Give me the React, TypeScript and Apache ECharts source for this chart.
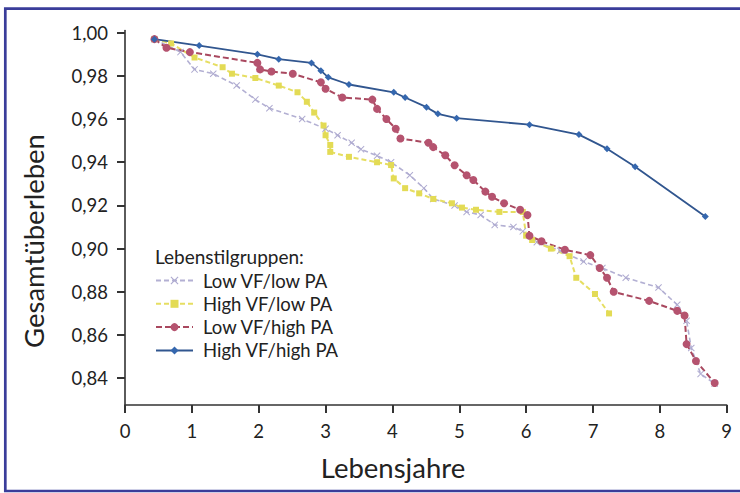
import React, { useEffect, useRef } from "react";
import * as echarts from "echarts";

const seriesNames = ["Low VF/low PA", "High VF/low PA", "Low VF/high PA", "High VF/high PA"];

const lowLowX = [0.44, 0.83, 1.04, 1.32, 1.67, 1.95, 2.16, 2.65, 3.0, 3.18, 3.39, 3.53, 3.77, 3.98, 4.26, 4.47, 4.61, 4.93, 5.11, 5.32, 5.53, 5.81, 5.95, 6.16, 6.51, 6.86, 7.14, 7.49, 7.98, 8.26, 8.4, 8.47, 8.61, 8.82];
const lowLowY = [0.997, 0.991, 0.983, 0.981, 0.9755, 0.969, 0.965, 0.96, 0.9555, 0.9525, 0.949, 0.946, 0.943, 0.94, 0.934, 0.928, 0.923, 0.92, 0.917, 0.9156, 0.911, 0.91, 0.908, 0.903, 0.899, 0.894, 0.891, 0.8865, 0.882, 0.874, 0.8666, 0.854, 0.842, 0.8375];

const highLowX = [0.44, 0.69, 1.04, 1.46, 1.6, 1.95, 2.3, 2.58, 2.72, 2.83, 2.97, 3.0, 3.07, 3.07, 3.35, 3.77, 3.98, 4.02, 4.19, 4.4, 4.61, 4.89, 5.04, 5.25, 5.6, 5.95, 6.0, 6.09, 6.37, 6.65, 6.75, 7.03, 7.24];
const highLowY = [0.997, 0.995, 0.9885, 0.984, 0.981, 0.979, 0.9755, 0.9724, 0.968, 0.963, 0.957, 0.9525, 0.948, 0.9448, 0.9425, 0.94, 0.9387, 0.9325, 0.928, 0.9256, 0.923, 0.921, 0.919, 0.918, 0.917, 0.917, 0.906, 0.904, 0.9, 0.8965, 0.8865, 0.879, 0.87];

const lowHighX = [0.44, 0.62, 0.97, 1.98, 2.02, 2.19, 2.51, 2.93, 3.0, 3.25, 3.7, 3.77, 3.91, 4.05, 4.12, 4.54, 4.61, 4.79, 4.93, 5.11, 5.21, 5.39, 5.49, 5.67, 5.91, 6.02, 6.05, 6.23, 6.58, 6.96, 7.1, 7.21, 7.31, 7.84, 8.26, 8.37, 8.4, 8.54, 8.82];
const lowHighY = [0.997, 0.993, 0.991, 0.986, 0.983, 0.982, 0.981, 0.977, 0.974, 0.97, 0.969, 0.9647, 0.96, 0.9555, 0.951, 0.949, 0.947, 0.9432, 0.9386, 0.934, 0.9318, 0.9264, 0.924, 0.921, 0.918, 0.9156, 0.906, 0.9034, 0.8995, 0.897, 0.891, 0.8865, 0.88, 0.8758, 0.8712, 0.869, 0.8558, 0.848, 0.8378];

const highHighX = [0.44, 1.11, 1.98, 2.3, 2.79, 2.93, 3.04, 3.35, 4.02, 4.19, 4.51, 4.68, 4.96, 6.05, 6.79, 7.21, 7.63, 8.68];
const highHighY = [0.997, 0.994, 0.99, 0.9877, 0.986, 0.9824, 0.9793, 0.976, 0.9724, 0.97, 0.9655, 0.9624, 0.9604, 0.9574, 0.9528, 0.9463, 0.9379, 0.9149];

const yTicks = [0.84, 0.86, 0.88, 0.9, 0.92, 0.94, 0.96, 0.98, 1.0];

const zip = (xs: number[], ys: number[]) => xs.map((x, i) => [x, ys[i]]);

const FONT = "Lato";
const crossPath = "path://M0 1L1 0L5 4L9 0L10 1L6 5L10 9L9 10L5 6L1 10L0 9L4 5Z";

export default function App() {
  const ref = useRef<HTMLDivElement>(null);
  useEffect(() => {
    if (!ref.current) return;
    const chart = echarts.init(ref.current, undefined, { renderer: "svg" });
    chart.setOption({
      animation: false,
      backgroundColor: "#ffffff",
      textStyle: { fontFamily: FONT },
      grid: { left: 125, right: 13.3, top: 30.5, bottom: 88 },
      xAxis: {
        type: "value",
        min: 0,
        max: 9,
        interval: 1,
        axisLine: { lineStyle: { color: "#333", width: 1.6 } },
        axisTick: { inside: false, length: 8, lineStyle: { color: "#333", width: 2 } },
        axisLabel: { color: "#222", fontSize: 18.5, margin: 16, fontFamily: FONT },
        splitLine: { show: false },
      },
      yAxis: {
        type: "value",
        min: 0.8276,
        max: 1.001,
        offset: 5,
        axisLine: { show: true, lineStyle: { color: "#333", width: 1.6 } },
        axisTick: { show: true, length: 8, customValues: yTicks, lineStyle: { color: "#333", width: 2 } },
        axisLabel: {
          color: "#222",
          fontSize: 18.5,
          margin: 12,
          fontFamily: FONT,
          customValues: yTicks,
          formatter: (v: number) => v.toFixed(2).replace(".", ","),
        },
        splitLine: { show: false },
      },
      legend: {
        orient: "vertical",
        left: 155,
        top: 271,
        padding: 0,
        itemWidth: 37,
        itemHeight: 10,
        itemGap: 4.3,
        textStyle: { fontSize: 18.5, lineHeight: 19, color: "#222", fontFamily: FONT, padding: [0, 0, 0, 5] },
        data: seriesNames,
      },
      graphic: [
        {
          type: "rect",
          shape: { x: 5.3, y: 8.7, width: 740, height: 482.3 },
          style: { fill: "none", stroke: "#3a3d9a", lineWidth: 2.7 },
          silent: true,
        },
        {
          type: "text",
          x: 33,
          y: 241,
          rotation: Math.PI / 2,
          style: { text: "Gesamtüberleben", fontSize: 27.5, fontFamily: FONT, fill: "#222", align: "center", verticalAlign: "middle" },
        },
        {
          type: "text",
          x: 393,
          y: 467,
          style: { text: "Lebensjahre", fontSize: 27.5, fontFamily: FONT, fill: "#222", align: "center", verticalAlign: "middle" },
        },
        {
          type: "text",
          x: 155,
          y: 256.7,
          style: { text: "Lebenstilgruppen:", fontSize: 19, fontFamily: FONT, fill: "#222", align: "left", verticalAlign: "middle" },
        },
      ],
      series: [
        {
          name: seriesNames[0],
          type: "line",
          data: zip(lowLowX, lowLowY),
          symbol: crossPath,
          symbolSize: 7,
          itemStyle: { color: "#aeaad0" },
          lineStyle: { color: "#b3b0d3", width: 1.6, type: [5, 3] },
        },
        {
          name: seriesNames[1],
          type: "line",
          data: zip(highLowX, highLowY),
          symbol: "rect",
          symbolSize: 6,
          itemStyle: { color: "#e3db55" },
          lineStyle: { color: "#e6de62", width: 2, type: [5, 3] },
        },
        {
          name: seriesNames[2],
          type: "line",
          data: zip(lowHighX, lowHighY),
          symbol: "circle",
          symbolSize: 8,
          itemStyle: { color: "#b5536f" },
          lineStyle: { color: "#a9485f", width: 2, type: [6, 3] },
        },
        {
          name: seriesNames[3],
          type: "line",
          data: zip(highHighX, highHighY),
          symbol: "diamond",
          symbolSize: 7,
          itemStyle: { color: "#3567ae" },
          lineStyle: { color: "#31568f", width: 1.8 },
        },
      ],
    });
    return () => chart.dispose();
  }, []);
  return <div ref={ref} style={{ position: "absolute", left: 0, top: 0, width: 740, height: 493 }} />;
}
